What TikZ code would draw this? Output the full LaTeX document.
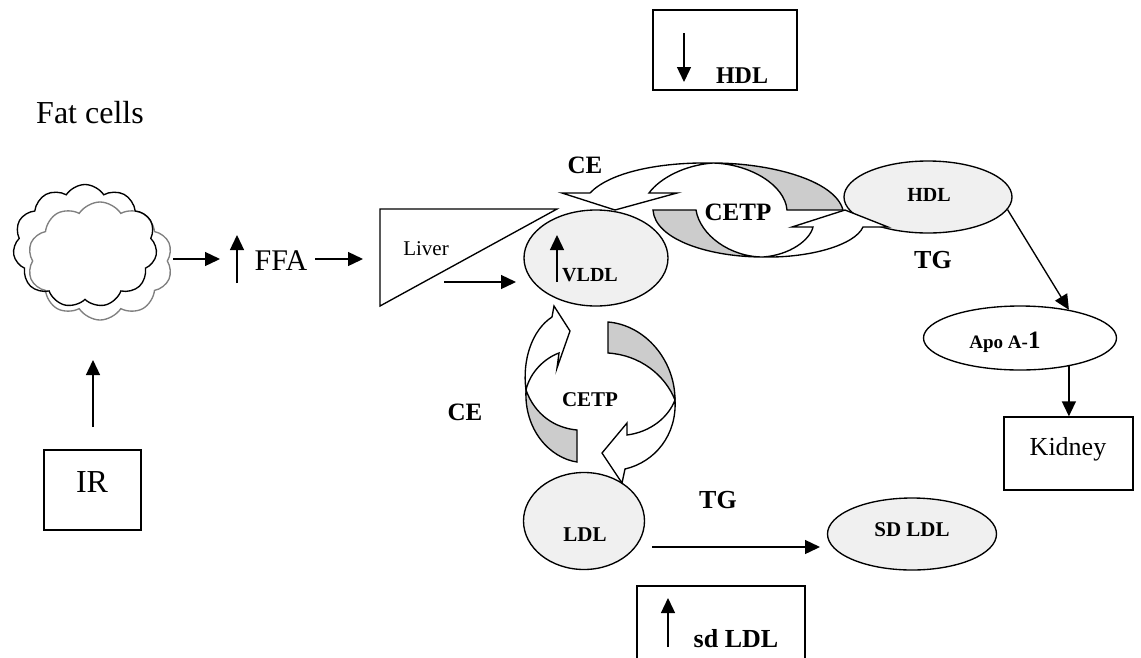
\documentclass[tikz,border=0pt]{standalone}
\usepackage{fontspec}
\setmainfont{Liberation Serif}
\usetikzlibrary{arrows.meta,shapes.geometric,shapes.symbols}
\definecolor{ellfill}{HTML}{F0F0F0}
\definecolor{bandgray}{HTML}{CCCCCC}
\definecolor{cloudgray}{HTML}{808080}
\begin{document}
\begin{tikzpicture}[x=1pt,y=-1pt,line width=1.35pt,line join=miter,
  arr/.style={-{Triangle[length=15pt,width=14pt]}},
  lip/.style={draw,ellipse,fill=ellfill,inner sep=0pt},
  boxn/.style={draw,rectangle,inner sep=0pt},
  band/.style={draw,fill=white},
  bandback/.style={draw,fill=bandgray},
  txt/.style={inner sep=0pt,font=\fontsize{#1}{#1}\selectfont},
  btxt/.style={inner sep=0pt,font=\fontsize{#1}{#1}\selectfont\bfseries}]
\useasboundingbox (0,0) rectangle (1141,657);

% fat cells
\node[txt=32,anchor=base] (fat) at (90,123) {Fat cells};
\node[cloud,cloud puffs=10,cloud puff arc=115,draw=cloudgray,minimum width=145pt,minimum height=118pt,inner sep=0pt] (cloudB) at (100,261) {};
\node[cloud,cloud puffs=11,cloud puff arc=115,draw,minimum width=144pt,minimum height=123pt,inner sep=0pt] (cloudA) at (85,246) {};

% IR
\node[boxn,minimum width=97pt,minimum height=80pt] (ir) at (92.5,490) {};
\node[txt=32,anchor=base] (irt) at (92,492) {IR};
\coordinate (irA) at (93,427);
\coordinate (irB) at (93,360);
\draw[arr] (irA) -- (irB);

% FFA
\coordinate (c1) at (173,259);
\coordinate (c2) at (220,259);
\draw[arr] (c1) -- (c2);
\coordinate (u1) at (237,283);
\coordinate (u2) at (237,235);
\draw[arr] (u1) -- (u2);
\node[txt=30] (ffa) at (281,261) {FFA};
\coordinate (f1) at (315,259);
\coordinate (f2) at (363,259);
\draw[arr] (f1) -- (f2);

% liver
\draw (380,209) coordinate (lv1) -- (557,209) coordinate (lv2) -- (380,306) coordinate (lv3) -- cycle;
\node[txt=21] (liver) at (426,249) {Liver};
\coordinate (l1) at (444,282);
\coordinate (l2) at (516,282);
\draw[arr] (l1) -- (l2);

% ellipses
\node[lip,minimum width=144pt,minimum height=96pt] (vldl) at (596,258) {};
\node[lip,minimum width=168pt,minimum height=72pt] (hdl) at (928,197) {};
\node[lip,minimum width=121pt,minimum height=97pt] (ldl) at (584,521) {};
\node[lip,minimum width=169pt,minimum height=72pt] (sdldl) at (912,534) {};
\node[draw,ellipse,fill=white,inner sep=0pt,minimum width=193pt,minimum height=64pt] (apo) at (1020,338) {};

% VLDL content
\coordinate (v1) at (557,282);
\coordinate (v2) at (557,235);
\draw[arr] (v1) -- (v2);
\node[btxt=20] (vldlt) at (590,275) {VLDL};

% top curved arrow (HDL -> VLDL)
\draw[band] (590,193) .. controls (610,172) and (660,162) .. (713,163)
  .. controls (685,165) and (660,178) .. (649,193) -- (677,193) -- (615,210) -- (562,193) -- cycle;
\draw[bandback] (713,163) .. controls (770,163) and (835,180) .. (843,210) -- (787,210)
  .. controls (785,185) and (750,164) .. (713,163) -- cycle;
% bottom curved arrow (VLDL -> HDL)
\draw[bandback] (653,210) -- (696,210) .. controls (700,235) and (730,257) .. (763,257)
  .. controls (710,257) and (655,240) .. (653,210) -- cycle;
\draw[band] (763,257) .. controls (810,258) and (855,245) .. (863,227) -- (888,227) -- (845,210) -- (792,227) -- (813,227)
  .. controls (810,240) and (790,255) .. (763,257) -- cycle;

% left vertical curved arrow (LDL -> VLDL)
\draw[band] (526,390) .. controls (522,360) and (532,330) .. (552,317) -- (554,306) -- (570,331) -- (557,368) -- (559,353)
  .. controls (545,358) and (530,372) .. (526,390) -- cycle;
\draw[bandback] (526,390) .. controls (535,415) and (555,428) .. (577,430) -- (577,462)
  .. controls (550,458) and (524,430) .. (526,390) -- cycle;
% right vertical curved arrow (VLDL -> LDL)
\draw[bandback] (608,322) .. controls (645,325) and (675,360) .. (675,400)
  .. controls (665,375) and (640,355) .. (608,353) -- cycle;
\draw[band] (675,400) .. controls (677,435) and (655,462) .. (625,469) -- (622,483) -- (602,453) -- (627,423) -- (627,435)
  .. controls (650,432) and (668,418) .. (675,400) -- cycle;

% labels
\node[btxt=25] (ce1) at (585,165) {CE};
\node[btxt=25] (cetp1) at (738,212) {CETP};
\node[btxt=20] (hdlt) at (929,195) {HDL};
\node[btxt=26] (tg1) at (933,260) {TG};
\node[btxt=25] (ce2) at (465,412) {CE};
\node[btxt=21] (cetp2) at (590,400) {CETP};
\node[btxt=21] (ldlt) at (585,535) {LDL};
\node[btxt=26] (tg2) at (718,500) {TG};
\node[btxt=21] (sdldlt) at (912,530) {SD LDL};

% LDL -> SD LDL
\coordinate (t1) at (652,547);
\coordinate (t2) at (820,547);
\draw[arr] (t1) -- (t2);

% top HDL box
\node[boxn,minimum width=144pt,minimum height=80pt] (hbox) at (725,50) {};
\coordinate (h1) at (684,33);
\coordinate (h2) at (684,82);
\draw[arr] (h1) -- (h2);
\begin{scope}
\clip (653,10) rectangle (797,83);
\node[btxt=24] (hboxt) at (742,76) {HDL};
\end{scope}

% bottom sd LDL box
\node[boxn,minimum width=168pt,minimum height=110pt] (sbox) at (721,641) {};
\coordinate (s1) at (668,647);
\coordinate (s2) at (668,598);
\draw[arr] (s1) -- (s2);
\node[btxt=26] (sboxt) at (736,639) {sd LDL};

% Apo A-1, kidney
\draw[arr] (hdl.-9) -- (apo.30);
\node[btxt=19] (apot) at (1005,342) {Apo A-{\fontsize{25}{25}\selectfont 1}};
\node[boxn,minimum width=129pt,minimum height=73pt] (kid) at (1068.5,453.5) {};
\node[txt=26,anchor=base] (kidt) at (1068,455) {Kidney};
\draw[arr] (apo.-30) -- (apo.-30 |- kid.north);
\end{tikzpicture}
\end{document}
